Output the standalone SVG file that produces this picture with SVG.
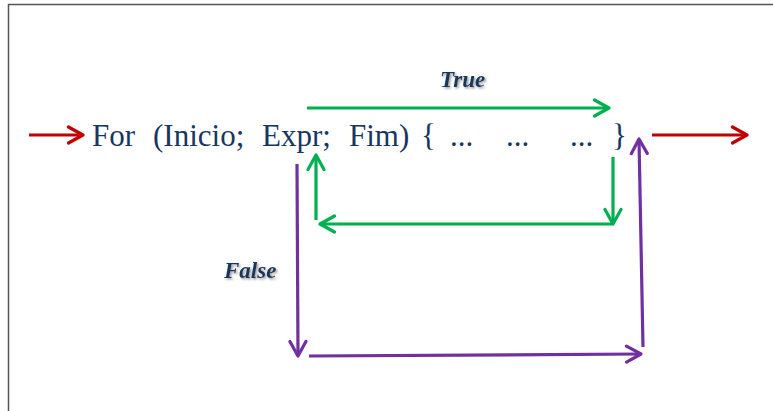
<svg xmlns="http://www.w3.org/2000/svg" width="773" height="411" viewBox="0 0 773 411">
<defs>
<style>
.code{font-family:'Liberation Serif','Times New Roman',serif;font-size:31px;fill:#17375E}
.lbl{font-family:'Liberation Serif','Times New Roman',serif;font-size:23px;font-weight:bold;font-style:italic;fill:#17375E}
.red{stroke:#C00000;stroke-width:3.2;fill:none}
.grn{stroke:#00B050;stroke-width:3.2;fill:none}
.pur{stroke:#7030A0;stroke-width:3.2;fill:none}
</style>
<marker id="hr" viewBox="0 0 20 20" refX="17" refY="10" markerWidth="20" markerHeight="20" markerUnits="userSpaceOnUse" orient="auto"><path d="M2.5,2 L17,10 L2.5,18" fill="none" stroke="#C00000" stroke-width="3.2" stroke-linecap="round" stroke-linejoin="round"/></marker>
<marker id="hg" viewBox="0 0 20 20" refX="17" refY="10" markerWidth="20" markerHeight="20" markerUnits="userSpaceOnUse" orient="auto"><path d="M2.5,2 L17,10 L2.5,18" fill="none" stroke="#00B050" stroke-width="3.2" stroke-linecap="round" stroke-linejoin="round"/></marker>
<marker id="hp" viewBox="0 0 20 20" refX="17" refY="10" markerWidth="20" markerHeight="20" markerUnits="userSpaceOnUse" orient="auto"><path d="M2.5,2 L17,10 L2.5,18" fill="none" stroke="#7030A0" stroke-width="3.2" stroke-linecap="round" stroke-linejoin="round"/></marker>
<filter id="sh" x="-20%" y="-30%" width="140%" height="160%"><feDropShadow dx="1.5" dy="1.5" stdDeviation="1" flood-color="#808080" flood-opacity="0.8"/></filter>
</defs>
<rect width="773" height="411" fill="#fff"/>
<path d="M8.5,411 L8.5,4.5 L773,4.5" fill="none" stroke="#555" stroke-width="1.5"/>
<g id="code">
<text class="code" x="92" y="146">For</text>
<text class="code" x="153" y="146">(Inicio;</text>
<text class="code" x="262" y="146">Expr;</text>
<text class="code" x="349" y="146">Fim)</text>
<text class="code" x="421" y="146">{</text>
<text class="code" x="450" y="146">...</text>
<text class="code" x="506" y="146">...</text>
<text class="code" x="570" y="146">...</text>
<text class="code" x="612" y="146">}</text>
</g>
<g id="labels">
<text class="lbl" x="440" y="87" filter="url(#sh)">True</text>
<text class="lbl" x="224" y="278" filter="url(#sh)">False</text>
</g>
<g id="connectors">
<line class="red" x1="29" y1="135" x2="83" y2="135" marker-end="url(#hr)"/>
<line class="red" x1="652" y1="135" x2="747" y2="135" marker-end="url(#hr)"/>
<line class="grn" x1="307" y1="108" x2="609" y2="108" marker-end="url(#hg)"/>
<line class="grn" x1="613" y1="157" x2="613" y2="224" marker-end="url(#hg)"/>
<line class="grn" x1="612" y1="224" x2="320" y2="224" marker-end="url(#hg)"/>
<line class="grn" x1="316" y1="220" x2="316" y2="155" marker-end="url(#hg)"/>
<line class="pur" x1="297" y1="164" x2="298" y2="356" marker-end="url(#hp)"/>
<line class="pur" x1="309" y1="356" x2="641" y2="354" marker-end="url(#hp)"/>
<line class="pur" x1="643" y1="347" x2="639" y2="139" marker-end="url(#hp)"/>
</g>
</svg>
